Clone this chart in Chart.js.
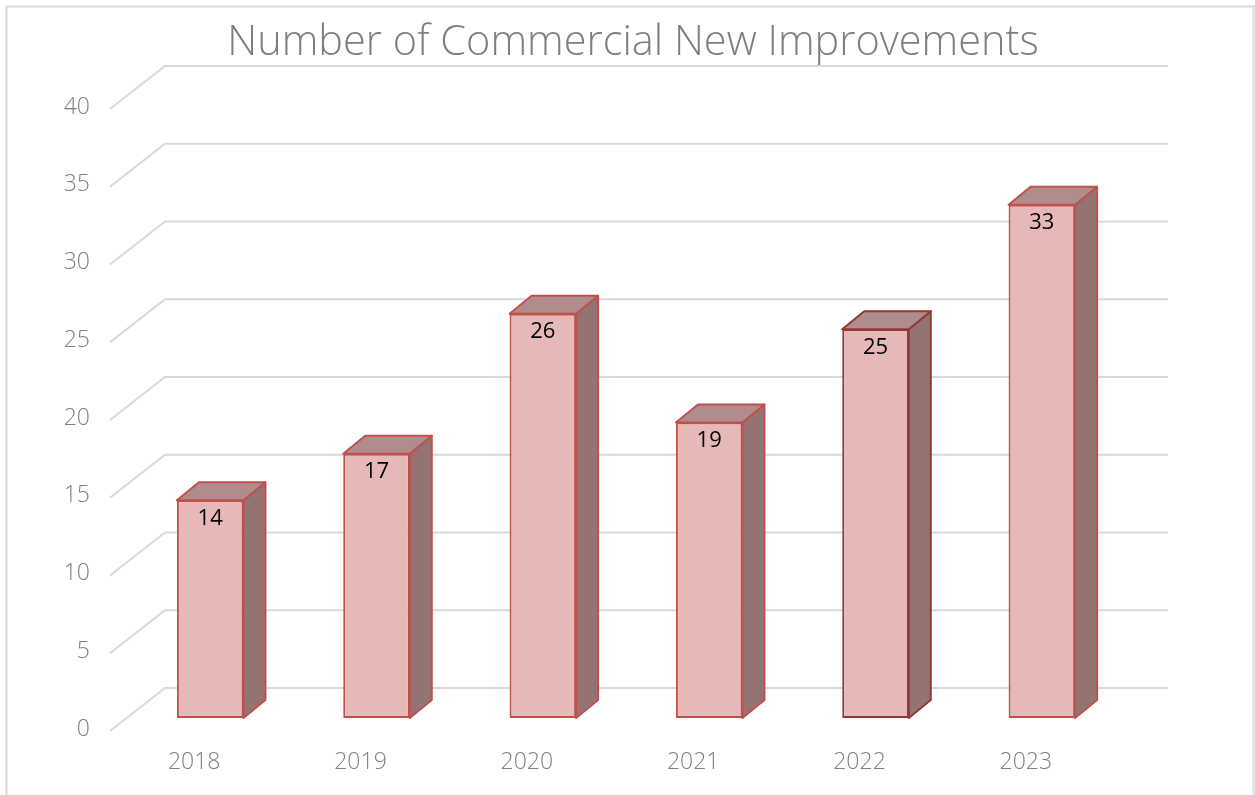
<!DOCTYPE html>
<html>
<head>
<meta charset="utf-8">
<script src="https://cdn.jsdelivr.net/npm/chart.js@4.4.0/dist/chart.umd.min.js"></script>
<style>
  html, body { margin: 0; padding: 0; background: #fff; }
  #wrap { width: 1255px; height: 795px; position: relative; }
</style>
</head>
<body>
<div id="wrap"><canvas id="myChart" width="1255" height="795"></canvas></div>
<script>
const years = ["2018", "2019", "2020", "2021", "2022", "2023"];
const improvements = [14, 17, 26, 19, 25, 33];
const yTicks = [0, 5, 10, 15, 20, 25, 30, 35, 40];
const chartTitle = "Number of Commercial New Improvements";

const FONT = "'Open Sans', 'DejaVu Sans', sans-serif";
const DX = 22, DY = -18;        // bar depth
const BACK_X = 55, BACK_Y = -43; // wall depth

let fake3d = {
  id: "fake3d",
  beforeDatasetsDraw(chart) {
    const ctx = chart.ctx;
    const y = chart.scales.y;
    ctx.save();
    // outer frame
    ctx.strokeStyle = "#d9d9d9";
    ctx.lineWidth = 2;
    ctx.beginPath();
    ctx.moveTo(6.5, 795);
    ctx.lineTo(6.5, 6.5);
    ctx.lineTo(1255, 6.5);
    ctx.stroke();
    ctx.beginPath();
    ctx.moveTo(1253.5, 6.5);
    ctx.lineTo(1253.5, 795);
    ctx.stroke();

    // title
    ctx.fillStyle = "#7f7f7f";
    ctx.font = "300 41.5px " + FONT;
    ctx.textAlign = "center";
    ctx.textBaseline = "middle";
    ctx.fillText(chartTitle, 633, 43);

    // grid: diagonal side wall + back wall lines
    ctx.strokeStyle = "#d9d9d9";
    ctx.lineWidth = 2;
    yTicks.forEach(v => {
      const p = y.getPixelForValue(v);
      ctx.beginPath();
      ctx.moveTo(110, p + 13);
      ctx.lineTo(110 + BACK_X, p + 13 + BACK_Y);
      ctx.lineTo(1168, p + 13 + BACK_Y);
      ctx.stroke();
    });

    // y tick labels
    ctx.fillStyle = "#7f7f7f";
    ctx.font = "300 23px " + FONT;
    ctx.textAlign = "right";
    yTicks.forEach(v => {
      ctx.fillText(String(v), 90, y.getPixelForValue(v) + 11);
    });

    // x labels
    ctx.textAlign = "center";
    const meta = chart.getDatasetMeta(0);
    meta.data.forEach((bar, i) => {
      ctx.fillText(years[i], bar.x - 16, 762);
    });
    ctx.restore();
  },
  afterDatasetsDraw(chart) {
    const ctx = chart.ctx;
    const meta = chart.getDatasetMeta(0);
    const borders = chart.data.datasets[0].borderColor;
    ctx.save();
    ctx.lineWidth = 2;
    ctx.lineJoin = "round";
    meta.data.forEach((bar, i) => {
      const left = bar.x - bar.width / 2;
      const right = bar.x + bar.width / 2;
      const top = bar.y;
      const bottom = bar.base;
      ctx.strokeStyle = borders[i];
      // side
      ctx.fillStyle = "#947473";
      ctx.beginPath();
      ctx.moveTo(right, top);
      ctx.lineTo(right + DX, top + DY);
      ctx.lineTo(right + DX, bottom + DY);
      ctx.lineTo(right, bottom);
      ctx.closePath();
      ctx.fill();
      ctx.stroke();
      // top
      ctx.fillStyle = "#b08d8c";
      ctx.beginPath();
      ctx.moveTo(left, top);
      ctx.lineTo(left + DX, top + DY);
      ctx.lineTo(right + DX, top + DY);
      ctx.lineTo(right, top);
      ctx.closePath();
      ctx.fill();
      ctx.stroke();
      // value label
      ctx.fillStyle = "#000";
      ctx.font = "22px " + FONT;
      ctx.textAlign = "center";
      ctx.textBaseline = "middle";
      ctx.fillText(String(improvements[i]), bar.x, top + 18);
    });
    ctx.restore();
  }
};

let plot = () => {
  const ctx = document.getElementById("myChart");
  const dataset = {
    labels: years,
    datasets: [
      {
        label: "Improvements",
        data: improvements,
        backgroundColor: "#e6b9b8",
        borderColor: ["#c0504d", "#c0504d", "#c0504d", "#c0504d", "#953735", "#c0504d"],
        borderWidth: 2,
        borderSkipped: false,
        categoryPercentage: 1.0,
        barPercentage: 0.4,
      },
    ],
  };

  const config = {
    type: "bar",
    data: dataset,
    options: {
      responsive: false,
      animation: false,
      devicePixelRatio: 1,
      layout: { padding: { left: 127, right: 130, top: 96, bottom: 77 } },
      plugins: { legend: { display: false }, tooltip: { enabled: false } },
      scales: {
        x: { display: false },
        y: { display: false, min: 0, max: 40 },
      },
    },
    plugins: [fake3d],
  };
  new Chart(ctx, config);
};

plot();
</script>
</body>
</html>
